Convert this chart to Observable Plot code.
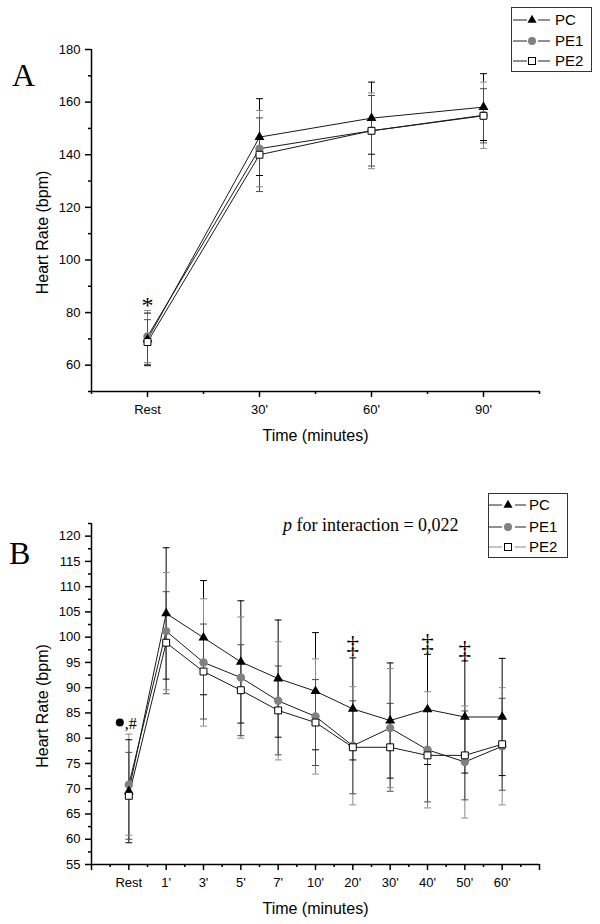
<!DOCTYPE html>
<html>
<head>
<meta charset="utf-8">
<script src="https://cdn.jsdelivr.net/npm/d3@7"></script>
<script src="https://cdn.jsdelivr.net/npm/@observablehq/plot@0.6"></script>
<style>
  body { margin: 0; background: #fff; }
  #fig { position: relative; width: 600px; height: 924px; overflow: hidden; background: #fff; }
  #fig > * { position: absolute; left: 0; }
</style>
</head>
<body>
<div id="fig"></div>
<script>
// ---------- Panel A data ----------
const catsA = ["Rest", "30'", "60'", "90'"];
const pcA = [69.8, 146.7, 153.9, 158.1];
const pcA_sd = [10.0, 14.6, 13.7, 12.7];
const pe1A = [70.9, 142.3, 149.1, 155.0];
const pe1A_sd = [9.9, 14.5, 14.4, 12.6];
const pe2A = [68.8, 140.0, 149.1, 154.8];
const pe2A_sd = [8.5, 14.0, 13.4, 10.3];
const yTicksA = [60, 80, 100, 120, 140, 160, 180];

// ---------- Panel B data ----------
const catsB = ["Rest", "1'", "3'", "5'", "7'", "10'", "20'", "30'", "40'", "50'", "60'"];
const pcB = [69.5, 104.7, 99.9, 95.1, 91.8, 89.3, 85.8, 83.5, 85.7, 84.2, 84.2];
const pcB_sd = [10.2, 13.0, 11.3, 12.1, 11.6, 11.6, 10.1, 11.4, 10.9, 11.1, 11.6];
const pe1B = [70.8, 101.2, 95.0, 92.0, 87.4, 84.3, 78.5, 82.0, 77.7, 75.3, 78.4];
const pe1B_sd = [10.0, 11.6, 12.6, 12.0, 11.7, 11.4, 11.7, 11.8, 11.5, 11.1, 11.6];
const pe2B = [68.6, 98.9, 93.2, 89.5, 85.5, 83.1, 78.2, 78.2, 76.6, 76.6, 78.8];
const pe2B_sd = [8.6, 10.1, 9.4, 9.0, 8.8, 8.5, 9.2, 8.7, 9.2, 8.8, 9.1];
const yTicksB = [55, 60, 65, 70, 75, 80, 85, 90, 95, 100, 105, 110, 115, 120];

// annotations
const starA = [{i: 0, y: 84.6, t: "*"}];
const daggersB = [{i: 6, y: 98.4, t: "‡"}, {i: 8, y: 98.8, t: "‡"}, {i: 9, y: 97.4, t: "‡"}];
const restMarkB = {i: 0, y: 83.1};
const seriesNames = ["PC", "PE1", "PE2"];
const pText = "0,022";

// ---------- drawing ----------
const FONT = "Arial, 'Liberation Sans', Helvetica, sans-serif";
const SERIF = "'Liberation Serif', 'Times New Roman', serif";
const ebColors = {PC: "#000", PE1: "#8a8a8a", PE2: "#4a4a4a"};
const cap = {draw(ctx, size) { const w = Math.sqrt(size); ctx.moveTo(-w / 2, 0); ctx.lineTo(w / 2, 0); }};

function rowsOf(series) {
  return series.flatMap(s => s.vals.map((v, i) => ({series: s.name, i, v, lo: v - s.sd[i], hi: v + s.sd[i], eb: ebColors[s.name]})));
}

function panel(o) {
  const rows = rowsOf(o.series);
  const [x0, x1] = o.xDomain;
  const xMajor = d3.range(Math.ceil(x0), x1 + 1e-9, 1);
  const xMinor = d3.range(Math.floor(x0) + 0.5, x1 + 1e-9, 1);
  const yMinor = d3.range(o.yMinorStart, o.yDomain[1] + 1e-9, o.yStep).filter(v => !o.yMajor.includes(v));
  return Plot.plot({
    width: 600,
    height: o.height,
    marginLeft: 91, marginRight: 61, marginTop: o.mt, marginBottom: o.mb,
    x: {domain: o.xDomain},
    y: {domain: o.yDomain},
    style: {fontFamily: FONT, fontSize: "13px", background: "white", overflow: "visible", color: "black"},
    marks: [
      Plot.axisY(o.yMajor, {tickSize: 6, tickPadding: 5, strokeWidth: 1.5, fontSize: 13, label: null}),
      Plot.axisY(yMinor, {tickSize: 3, strokeWidth: 1.5, tickFormat: () => "", label: null}),
      Plot.axisX(xMajor, {tickSize: 6, tickPadding: 7, strokeWidth: 1.5, fontSize: 13, tickFormat: i => o.cats[i] ?? "", label: null}),
      Plot.axisX(xMinor, {tickSize: 3, strokeWidth: 1.5, tickFormat: () => "", label: null}),
      Plot.ruleX([x0], {strokeWidth: 1.5}),
      Plot.ruleY([o.yDomain[0]], {strokeWidth: 1.5}),
      Plot.text(["Heart Rate (bpm)"], {frameAnchor: "left", textAnchor: "middle", lineAnchor: "middle", dx: -49, dy: 12, rotate: -90, fontSize: 16}),
      Plot.text(["Time (minutes)"], {frameAnchor: "bottom", textAnchor: "middle", lineAnchor: "middle", dy: 44, fontSize: 16}),
      // error bars
      Plot.ruleX(rows, {x: "i", y1: "lo", y2: "hi", stroke: "eb", strokeWidth: 1}),
      Plot.dot(rows, {x: "i", y: "lo", symbol: cap, r: 3.9, fill: "none", stroke: "eb", strokeWidth: 1}),
      Plot.dot(rows, {x: "i", y: "hi", symbol: cap, r: 3.9, fill: "none", stroke: "eb", strokeWidth: 1}),
      // lines
      Plot.line(rows, {x: "i", y: "v", z: "series", stroke: "#1a1a1a", strokeWidth: 1}),
      // markers
      Plot.dot(rows.filter(d => d.series === "PE1"), {x: "i", y: "v", symbol: "circle", r: 4.2, fill: "#808080", stroke: "none"}),
      Plot.dot(rows.filter(d => d.series === "PC"), {x: "i", y: "v", symbol: "triangle", r: 3.7, fill: "black", stroke: "none"}),
      Plot.dot(rows.filter(d => d.series === "PE2"), {x: "i", y: "v", symbol: "square", r: 3.9, fill: "white", stroke: "black", strokeWidth: 1}),
      ...o.extra
    ]
  });
}

const fig = document.getElementById("fig");

const svgA = panel({
  cats: catsA,
  series: [{name: "PC", vals: pcA, sd: pcA_sd}, {name: "PE1", vals: pe1A, sd: pe1A_sd}, {name: "PE2", vals: pe2A, sd: pe2A_sd}],
  xDomain: [-0.5, 3.5], yDomain: [50, 180], yMajor: yTicksA, yMinorStart: 50, yStep: 10,
  height: 455, mt: 49, mb: 64,
  extra: [Plot.text(starA, {x: "i", y: "y", text: "t", fontFamily: SERIF, fontSize: 24, dy: 5})]
});
svgA.style.top = "0px";
fig.appendChild(svgA);

const svgB = panel({
  cats: catsB,
  series: [{name: "PC", vals: pcB, sd: pcB_sd}, {name: "PE1", vals: pe1B, sd: pe1B_sd}, {name: "PE2", vals: pe2B, sd: pe2B_sd}],
  xDomain: [-1, 11], yDomain: [55, 122.5], yMajor: yTicksB, yMinorStart: 57.5, yStep: 5,
  height: 469, mt: 68, mb: 60,
  extra: [
    Plot.text(daggersB, {x: "i", y: "y", text: "t", fontFamily: SERIF, fontSize: 25, fill: "black"}),
    Plot.dot([restMarkB], {x: "i", y: "y", r: 4, fill: "black", dx: -9}),
    Plot.text([restMarkB], {x: "i", y: "y", text: () => ",#", fontFamily: SERIF, fontSize: 16, textAnchor: "start", dx: -4, dy: 1})
  ]
});
svgB.style.top = "455px";
fig.appendChild(svgB);

// ---------- overlay: panel letters, legends, p text ----------
const ov = d3.select(fig).append("svg")
  .attr("width", 600).attr("height", 924)
  .style("top", "0px").style("pointer-events", "none");

ov.append("text").attr("x", 12).attr("y", 86).attr("font-family", SERIF).attr("font-size", 32).text("A");
ov.append("text").attr("x", 9).attr("y", 564).attr("font-family", SERIF).attr("font-size", 32).text("B");

const pt = ov.append("text").attr("x", 283).attr("y", 531).attr("font-family", SERIF).attr("font-size", 18);
pt.append("tspan").attr("font-style", "italic").text("p");
pt.append("tspan").text(" for interaction = " + pText);

function legend(left, top, w, h, rowYs, seg, pe2Line) {
  const g = ov.append("g").attr("transform", `translate(${left},${top})`);
  g.append("rect").attr("x", 0.5).attr("y", 0.5).attr("width", w).attr("height", h)
    .attr("fill", "white").attr("stroke", "#333").attr("stroke-width", 1);
  seriesNames.forEach((name, k) => {
    const y = rowYs[k];
    const lc = (name === "PE2") ? pe2Line : "#222";
    g.append("line").attr("x1", seg[0]).attr("x2", seg[1]).attr("y1", y).attr("y2", y).attr("stroke", lc);
    g.append("line").attr("x1", seg[3]).attr("x2", seg[4]).attr("y1", y).attr("y2", y).attr("stroke", lc);
    const m = seg[2];
    if (name === "PC") g.append("path").attr("d", d3.symbol(d3.symbolTriangle, 36)()).attr("transform", `translate(${m},${y})`).attr("fill", "black");
    if (name === "PE1") g.append("circle").attr("cx", m).attr("cy", y).attr("r", 4).attr("fill", "#808080");
    if (name === "PE2") g.append("rect").attr("x", m - 3.5).attr("y", y - 3.5).attr("width", 7).attr("height", 7).attr("fill", "white").attr("stroke", "black");
    g.append("text").attr("x", seg[5]).attr("y", y + 5.4).attr("font-family", FONT).attr("font-size", 15).text(name);
  });
}
legend(511, 7, 80, 64, [13, 34, 54], [2, 16, 21, 27, 39, 44], "#222");
legend(488, 493, 79, 64, [12, 34, 54], [1, 14, 20, 27, 38, 41], "#888");
</script>
</body>
</html>
